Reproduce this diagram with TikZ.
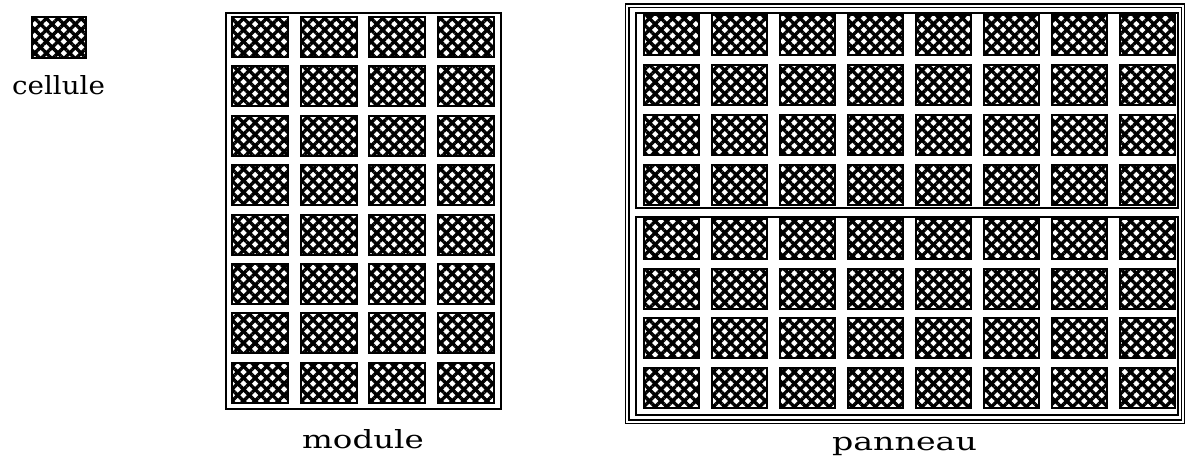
\documentclass[tikz,border=0pt]{standalone}
\usepackage{fontspec}
\usepackage{tikz}
\usetikzlibrary{patterns.meta}
\newfontfamily\labelfont{DejaVu Serif}
\tikzset{
  solar-cell/.style={draw=black, line width=1pt, inner sep=0pt,
    pattern={Lines[angle=45, distance=4.1pt, line width=1.7pt]},
    postaction={pattern={Lines[angle=-45, distance=4.1pt, line width=1.7pt]}}},
  module-cell/.style={solar-cell, minimum width=28pt, minimum height=20pt},
  panel-cell/.style={solar-cell, minimum width=27.5pt, minimum height=20pt},
  module-frame/.style={draw=black, line width=1pt},
  panel-frame/.style={draw=black, line width=0.7pt, double=white, double distance=1.1pt},
  label-text/.style={font=\labelfont\fontsize{12.5pt}{14pt}\selectfont, inner sep=0pt,
    anchor=base, transform shape}
}

\begin{document}
\begin{tikzpicture}[x=0.5pt, y=-0.5pt]
  \useasboundingbox (0,0) rectangle (1185,459);

  % Single cell (legend)
  \node[solar-cell, minimum width=27pt, minimum height=20.5pt] (cell) at (59,37.5) {};
  \node[label-text, xscale=1.11] (cell-label) at (58.5,95) {cellule};

  % Module: 4 x 8 cells
  \draw[module-frame] (226,13) rectangle (501,409);
  \foreach \i in {0,...,3} {
    \foreach \j in {0,...,7} {
      \node[module-cell] (m-\i-\j) at (260+68.7*\i, 37+49.4*\j) {};
    }
  }
  \node[label-text, xscale=1.3] (module-label) at (363,449) {module};

  % Panel: two modules of 8 x 4 cells
  \draw[panel-frame] (627,6) rectangle (1183,422);
  \draw[module-frame] (636,13) rectangle (1178,208);
  \draw[module-frame] (636,217) rectangle (1178,415);
  \foreach \i in {0,...,7} {
    \foreach \j in {0,...,3} {
      \node[panel-cell] (pu-\i-\j) at (671.5+68*\i, 35+50*\j) {};
      \node[panel-cell] (pl-\i-\j) at (671.5+68*\i, 239+49.7*\j) {};
    }
  }
  \node[label-text, xscale=1.33] (panel-label) at (904.5,451) {panneau};
\end{tikzpicture}
\end{document}
